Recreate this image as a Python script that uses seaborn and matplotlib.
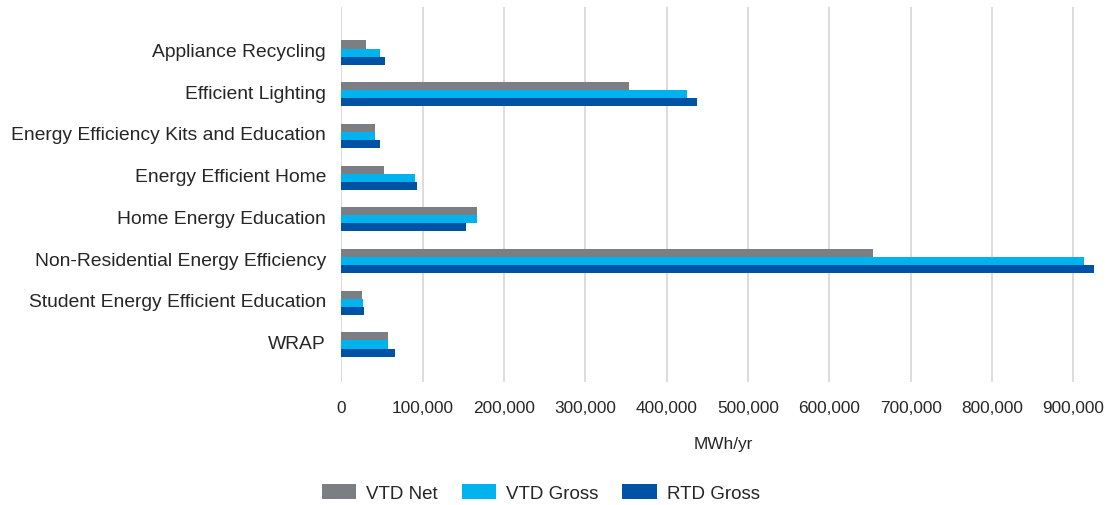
import matplotlib
matplotlib.use("Agg")
import matplotlib.pyplot as plt
import matplotlib.ticker as mticker
import matplotlib.transforms as mtransforms
import seaborn as sns
import pandas as pd

# Programme savings by category (MWh/yr)
categories = [
    "Appliance Recycling",
    "Efficient Lighting",
    "Energy Efficiency Kits and Education",
    "Energy Efficient Home",
    "Home Energy Education",
    "Non-Residential Energy Efficiency",
    "Student Energy Efficient Education",
    "WRAP",
]
vtd_net = [30400, 353900, 41000, 52900, 166900, 654000, 25500, 57000]
vtd_gross = [48000, 425200, 41000, 90300, 167000, 912700, 26300, 57000]
rtd_gross = [53400, 437500, 48000, 93500, 153000, 925000, 27500, 65700]
series_names = ["VTD Net", "VTD Gross", "RTD Gross"]
x_ticks = [0, 100000, 200000, 300000, 400000, 500000, 600000, 700000, 800000, 900000]

rows = []
for name, vals in zip(series_names, [vtd_net, vtd_gross, rtd_gross]):
    for cat, v in zip(categories, vals):
        rows.append({"Program": cat, "Series": name, "MWh": v})
df = pd.DataFrame(rows)

sns.set_theme(style="white")
plt.rcParams["font.family"] = ["Liberation Sans", "DejaVu Sans"]

text_color = "#262626"
palette = {"VTD Net": "#7B7E82", "VTD Gross": "#00B2EE", "RTD Gross": "#0052A5"}

fig = plt.figure(figsize=(11.10, 5.06), dpi=100)
ax = fig.add_axes([0.3075, 0.243, 0.6888, 0.741])

sns.barplot(
    data=df, y="Program", x="MWh", hue="Series",
    order=categories, hue_order=series_names, palette=palette,
    orient="h", width=0.58, linewidth=0, saturation=1, ax=ax,
    legend=True,
)

ax.set_xlim(0, 940000)
ax.set_ylim(7.90, -1.09)
ax.xaxis.set_major_locator(mticker.FixedLocator(x_ticks))
ax.xaxis.set_major_formatter(mticker.FuncFormatter(lambda v, p: f"{int(v):,}"))
ax.grid(axis="x", color="#DCDCDC", linewidth=1.4)
ax.grid(axis="y", visible=False)
ax.set_axisbelow(True)
for s in ax.spines.values():
    s.set_visible(False)

ax.tick_params(axis="x", length=0, pad=13, labelsize=12.4, labelcolor=text_color)
ax.tick_params(axis="y", length=0, pad=11, labelsize=13.9, labelcolor=text_color)
# lift the category labels slightly above the bar-group centres
lift = mtransforms.ScaledTranslation(0, 3 / 100, fig.dpi_scale_trans)
for lbl in ax.get_yticklabels():
    lbl.set_transform(lbl.get_transform() + lift)
ax.set_ylabel("")
ax.set_xlabel("MWh/yr", fontsize=12.4, color=text_color, labelpad=15)

handles, labels = ax.get_legend_handles_labels()
ax.get_legend().remove()
fig.legend(
    handles, labels, loc="center", bbox_to_anchor=(0.487, 0.024), ncol=3,
    frameon=False, fontsize=13.5, handlelength=1.85, handleheight=0.85,
    handletextpad=0.5, columnspacing=1.3, labelcolor=text_color,
)

fig.savefig("out.png", dpi=100, facecolor="white")
